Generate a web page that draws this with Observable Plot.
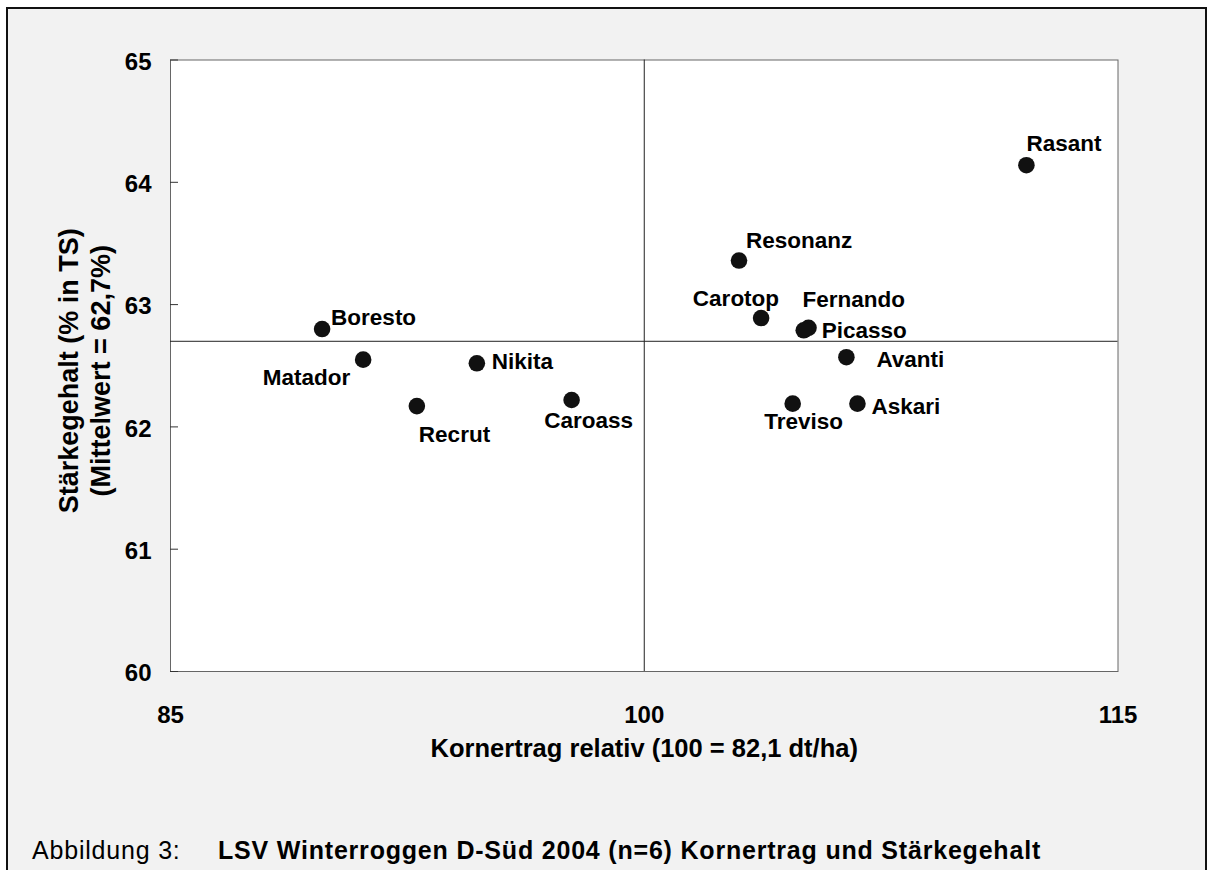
<!DOCTYPE html>
<html><head><meta charset="utf-8">
<script src="https://cdn.jsdelivr.net/npm/d3@7"></script>
<script src="https://cdn.jsdelivr.net/npm/@observablehq/plot@0.6"></script>
<style>
html,body{margin:0;padding:0;background:#fff;overflow:hidden;}
#frame{position:absolute;left:6px;top:7px;width:1197px;height:900px;border:2px solid #111;background:#f2f2f2;font-family:"Liberation Sans",Arial,sans-serif;color:#000;}
#caption{position:relative;margin-top:39px;height:25px;line-height:25px;font-size:25px;letter-spacing:0.8px;white-space:nowrap;}
#caption .lbl{position:absolute;left:24px;}
#caption .ttl{position:absolute;left:210px;font-weight:bold;}
</style></head>
<body>
<div id="frame"><div id="chart"></div>
<div id="caption"><span class="lbl">Abbildung 3:</span><span class="ttl">LSV Winterroggen D-Süd 2004 (n=6) Kornertrag und Stärkegehalt</span></div>
</div>
<script>
const varieties = ["Boresto","Matador","Recrut","Nikita","Caroass","Resonanz","Carotop","Fernando","Picasso","Avanti","Treviso","Askari","Rasant"];
const kornertrag = [89.8, 91.1, 92.8, 94.7, 97.7, 103.0, 103.7, 105.2, 105.05, 106.4, 104.7, 106.75, 112.1];
const staerke    = [62.80, 62.55, 62.17, 62.52, 62.22, 63.36, 62.89, 62.81, 62.79, 62.57, 62.19, 62.19, 64.14];
const xTicks = [85, 100, 115];
const yTicks = [60, 61, 62, 63, 64, 65];
const meanX = [100];
const meanY = [62.7];
const xTitle = "Kornertrag relativ (100 = 82,1 dt/ha)";
const yTitle = "Stärkegehalt (% in TS)\n(Mittelwert = 62,7%)";

const labelStyle = {
  Boresto:  {dx: 9,  dy: -11, textAnchor: "start"},
  Matador:  {dx: -13, dy: 18, textAnchor: "end"},
  Recrut:   {dx: 2,  dy: 29, textAnchor: "start"},
  Nikita:   {dx: 15, dy: -2, textAnchor: "start"},
  Caroass:  {dx: 17, dy: 21, textAnchor: "middle"},
  Resonanz: {dx: 7,  dy: -20, textAnchor: "start"},
  Carotop:  {dx: 18, dy: -19, textAnchor: "end"},
  Fernando: {dx: -6, dy: -28, textAnchor: "start"},
  Picasso:  {dx: 18, dy: 1, textAnchor: "start"},
  Avanti:   {dx: 30, dy: 3, textAnchor: "start"},
  Treviso:  {dx: 11, dy: 18, textAnchor: "middle"},
  Askari:   {dx: 14, dy: 3, textAnchor: "start"},
  Rasant:   {dx: 0,  dy: -21, textAnchor: "start"}
};

const rows = varieties.map((name, i) => ({name, k: kornertrag[i], s: staerke[i]}));

const labels = varieties.map(name => Plot.text(rows.filter(d => d.name === name), {
  x: "k", y: "s", text: "name", fontSize: 22.5, fontWeight: "bold", fill: "#000", ...labelStyle[name]
}));

const fmt = d => String(d);

const chart = Plot.plot({
  width: 1197,
  height: 790,
  marginLeft: 162,
  marginRight: 87.5,
  marginTop: 50.5,
  marginBottom: 128,
  style: {background: "transparent", fontFamily: "'Liberation Sans', Arial, sans-serif", color: "#000"},
  x: {domain: [85, 115]},
  y: {domain: [60, 65]},
  marks: [
    Plot.frame({fill: "white", stroke: "#666"}),
    Plot.ruleX(meanX, {stroke: "#222"}),
    Plot.ruleY(meanY, {stroke: "#222"}),
    Plot.axisY({ticks: yTicks, tickSize: 8, dx: 8, fill: "none", label: null, stroke: "#333"}),
    Plot.axisY({ticks: yTicks, tickFormat: fmt, tickSize: 0, tickPadding: 19, fontSize: 24, fontWeight: "bold", label: null, dy: 2}),
    Plot.axisX({ticks: xTicks, tickFormat: fmt, tickSize: 0, tickPadding: 34, fontSize: 24, fontWeight: "bold", label: null}),
    Plot.dot(rows, {x: "k", y: "s", r: 8.3, fill: "#111"}),
    ...labels,
    Plot.text([xTitle], {frameAnchor: "bottom", dy: 85, fontSize: 25.5, fontWeight: "bold"}),
    Plot.text([yTitle], {frameAnchor: "left", textAnchor: "middle", dx: -87, dy: 5, rotate: -90, fontSize: 27, fontWeight: "bold", lineHeight: 1.19})
  ]
});
document.getElementById("chart").appendChild(chart);
</script>
</body></html>
